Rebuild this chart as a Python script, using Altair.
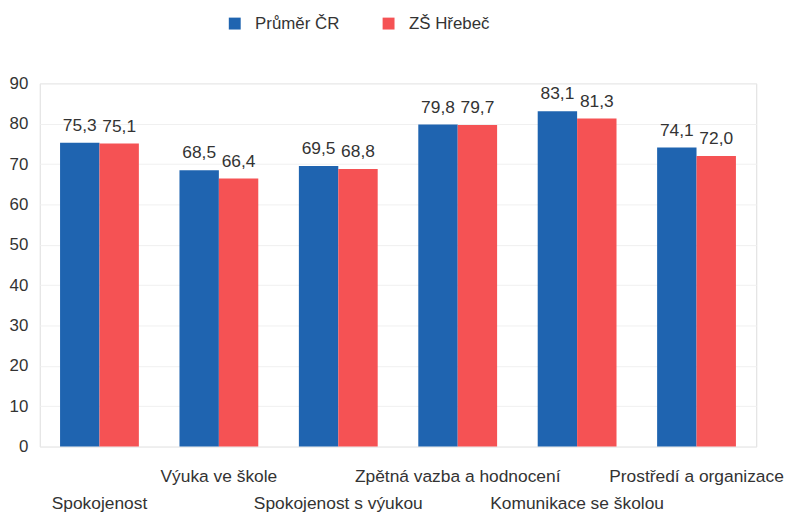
import altair as alt
import pandas as pd

categories = ["Spokojenost", "Výuka ve škole", "Spokojenost s výukou",
              "Zpětná vazba a hodnocení", "Komunikace se školou", "Prostředí a organizace"]
series = ["Průměr ČR", "ZŠ Hřebeč"]
prumer_cr = [75.3, 68.5, 69.5, 79.8, 83.1, 74.1]
zs_hrebec = [75.1, 66.4, 68.8, 79.7, 81.3, 72.0]
label_row = [2, 1, 2, 1, 2, 1]
colors = ["#1f64b0", "#f55254"]

rows = []
for i, c in enumerate(categories):
    for s, vals in zip(series, [prumer_cr, zs_hrebec]):
        rows.append({"kategorie": c, "serie": s, "hodnota": vals[i],
                     "popisek": f"{vals[i]:.1f}".replace(".", ",")})
df = pd.DataFrame(rows)
lab = pd.DataFrame({"kategorie": categories, "row": label_row})

W, H = 722, 366
FONT = "Liberation Sans"
FS = 17.5

xscale = alt.Scale(domain=categories, paddingInner=0.34, paddingOuter=0.17)
x = alt.X("kategorie:N", sort=categories, scale=xscale, axis=None)
y = alt.Y("hodnota:Q", scale=alt.Scale(domain=[0, 90], nice=False),
          axis=alt.Axis(values=list(range(0, 91, 10)), title=None, domain=False, ticks=False,
                        gridColor="#f0f0f0", labelFontSize=17, labelColor="#333333",
                        labelFont=FONT, labelPadding=12))
color = alt.Color("serie:N", sort=series, scale=alt.Scale(domain=series, range=colors),
                  legend=alt.Legend(title=None, orient="none", legendX=188, legendY=-69,
                                    direction="horizontal", symbolType="square",
                                    symbolSize=144, labelFontSize=17, labelFont=FONT,
                                    labelColor="#333333", columnPadding=40, labelOffset=12,
                                    symbolStrokeWidth=0))

base = alt.Chart(df).encode(x=x, xOffset=alt.XOffset("serie:N", sort=series))
bars = base.mark_bar().encode(y=y, color=color)
texts = base.mark_text(baseline="bottom", dy=-8, fontSize=FS, font=FONT, color="#333333").encode(
    y="hodnota:Q", text="popisek:N")

lab1 = alt.Chart(lab).transform_filter("datum.row == 1").mark_text(
    baseline="top", fontSize=FS, font=FONT, color="#333333").encode(
    x=alt.X("kategorie:N", sort=categories, scale=xscale, axis=None),
    y=alt.value(H + 22), text="kategorie:N")
lab2 = alt.Chart(lab).transform_filter("datum.row == 2").mark_text(
    baseline="top", fontSize=FS, font=FONT, color="#333333").encode(
    x=alt.X("kategorie:N", sort=categories, scale=xscale, axis=None),
    y=alt.value(H + 49), text="kategorie:N")

chart = alt.layer(bars, texts, lab1, lab2).properties(
    width=W, height=H,
    autosize=alt.AutoSizeParams(type="none"),
    padding={"left": 32, "top": 74, "right": 30, "bottom": 64},
).configure_view(stroke=None).configure(font=FONT)

chart.save("out.html", embed_options={"renderer": "svg", "actions": False})
